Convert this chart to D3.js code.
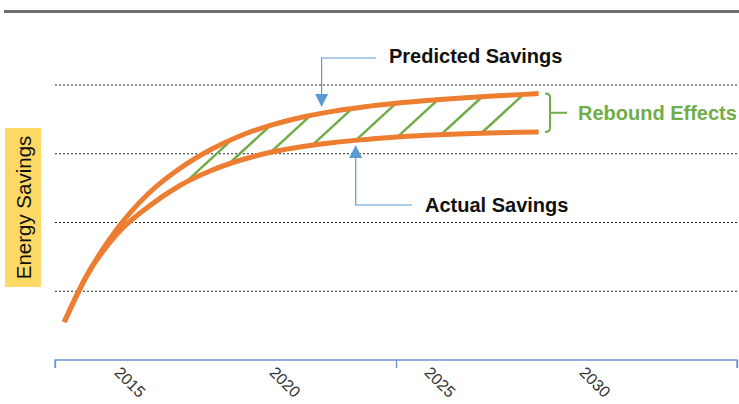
<!DOCTYPE html>
<html>
<head>
<meta charset="utf-8">
<script src="https://cdn.jsdelivr.net/npm/d3@7"></script>
<style>
  body { margin: 0; background: #fff; }
  svg { display: block; font-family: "Liberation Sans", Arial, sans-serif; }
</style>
</head>
<body>
<svg id="canvas" width="739" height="404"></svg>
<script>
// years along the curve
const years = [2013.3, 2014, 2015, 2016, 2017, 2018, 2019, 2020, 2021, 2022, 2023, 2024, 2025, 2026, 2027, 2028, 2028.6]
const predicted = [0.553, 1.207, 1.905, 2.415, 2.778, 3.055, 3.265, 3.420, 3.535, 3.620, 3.685, 3.735, 3.775, 3.808, 3.836, 3.860, 3.875]
const actual = [0.553, 1.207, 1.833, 2.225, 2.531, 2.749, 2.909, 3.025, 3.105, 3.164, 3.207, 3.244, 3.268, 3.287, 3.302, 3.312, 3.316]

const tickLabels = [2015, 2020, 2025, 2030]
const majorTicks = [2013, 2024, 2035]
const gridValues = [1, 2, 3, 4]
const hatchYears = [2017.2, 2018.6, 2019.95, 2021.3, 2022.7, 2024.05, 2025.45, 2026.75]

const width = 739
const height = 404

const orange = '#ED7D31'
const green = '#70AD47'
const blue = '#5B9BD5'

let canvas = d3.select('#canvas')

let xScale = d3.scaleLinear().domain([2013, 2035]).range([55, 737])
let yScale = d3.scaleLinear().domain([0, 4]).range([360, 85])

// top rule
canvas.append('line')
    .attr('x1', 4).attr('x2', width)
    .attr('y1', 11.5).attr('y2', 11.5)
    .attr('stroke', '#6f6f6f')
    .attr('stroke-width', 3)

// gridlines
canvas.selectAll('.grid')
    .data(gridValues)
    .enter()
    .append('line')
    .attr('class', 'grid')
    .attr('x1', xScale(2013)).attr('x2', xScale(2035))
    .attr('y1', d => yScale(d)).attr('y2', d => yScale(d))
    .attr('stroke', '#222')
    .attr('stroke-width', 1)
    .attr('stroke-dasharray', '2,2')

// x axis
let axis = d3.axisBottom(xScale)
    .tickValues(majorTicks)
    .tickSize(8)
    .tickFormat('')
let axisG = canvas.append('g')
    .attr('transform', 'translate(0,' + yScale(0) + ')')
    .call(axis)
axisG.selectAll('path, line').attr('stroke', '#6A93D6').attr('stroke-width', 1.3)
axisG.select('.domain').attr('d', 'M' + xScale(2013) + ',8V0H' + xScale(2035) + 'V8')

canvas.selectAll('.tick-label')
    .data(tickLabels)
    .enter()
    .append('text')
    .attr('class', 'tick-label')
    .attr('transform', d => 'translate(' + (xScale(d) + 5) + ',' + (yScale(0) + 5) + ') rotate(45)')
    .attr('dy', '0.75em')
    .attr('font-size', 16)
    .attr('fill', '#333')
    .text(d => d)

// y axis title box
canvas.append('rect')
    .attr('x', 5).attr('y', 128)
    .attr('width', 36).attr('height', 159)
    .attr('fill', '#FFD966')
canvas.append('text')
    .attr('transform', 'translate(23,207.5) rotate(-90)')
    .attr('text-anchor', 'middle')
    .attr('dominant-baseline', 'central')
    .attr('font-size', 20.5)
    .attr('fill', '#111')
    .text('Energy Savings')

// curves
let line = d3.line()
    .x(d => xScale(d[0]))
    .y(d => yScale(d[1]))
    .curve(d3.curveMonotoneX)

let predictedPts = years.map((y, i) => [y, predicted[i]])
let actualPts = years.map((y, i) => [y, actual[i]])

let hatchG = canvas.append('g')

let upperPath = canvas.append('path')
    .attr('d', line(predictedPts))
    .attr('fill', 'none')
    .attr('stroke', orange)
    .attr('stroke-width', 5)
let lowerPath = canvas.append('path')
    .attr('d', line(actualPts))
    .attr('fill', 'none')
    .attr('stroke', orange)
    .attr('stroke-width', 5)

let sample = (node) => {
    let total = node.getTotalLength()
    let pts = []
    for (let l = 0; l <= total; l += 0.5) {
        let p = node.getPointAtLength(l)
        pts.push([p.x, p.y])
    }
    return (x) => {
        for (let i = 1; i < pts.length; i++) {
            if (pts[i][0] >= x) {
                let a = pts[i - 1], b = pts[i]
                let t = b[0] === a[0] ? 0 : (x - a[0]) / (b[0] - a[0])
                return a[1] + t * (b[1] - a[1])
            }
        }
        return pts[pts.length - 1][1]
    }
}
let upperY = sample(upperPath.node())
let lowerY = sample(lowerPath.node())

// rebound hatching
const slope = 0.92
hatchYears.forEach(yr => {
    let x0 = xScale(yr)
    let y0 = lowerY(x0)
    let x1 = x0
    while (y0 - slope * (x1 - x0) > upperY(x1) && x1 < x0 + 80) x1 += 0.25
    hatchG.append('line')
        .attr('x1', x0).attr('y1', y0)
        .attr('x2', x1).attr('y2', y0 - slope * (x1 - x0))
        .attr('stroke', green)
        .attr('stroke-width', 2.5)
})

// callouts
let arrow = (x, tipY, dir) => {
    canvas.append('path')
        .attr('d', 'M' + (x - 6.5) + ',' + (tipY - dir * 13) + 'L' + (x + 6.5) + ',' + (tipY - dir * 13) + 'L' + x + ',' + tipY + 'Z')
        .attr('fill', blue)
}

let predX = xScale(2021.6)
canvas.append('path')
    .attr('d', 'M376,58H' + predX + 'V100')
    .attr('fill', 'none')
    .attr('stroke', blue)
    .attr('stroke-width', 1.2)
arrow(predX, 107, 1)

let actX = xScale(2022.7)
canvas.append('path')
    .attr('d', 'M412,205H' + actX + 'V152')
    .attr('fill', 'none')
    .attr('stroke', blue)
    .attr('stroke-width', 1.2)
arrow(actX, 145, -1)

canvas.append('text')
    .attr('x', 389).attr('y', 56)
    .attr('dominant-baseline', 'central')
    .attr('font-size', 20).attr('font-weight', 'bold')
    .attr('fill', '#111')
    .text('Predicted Savings')

canvas.append('text')
    .attr('x', 425).attr('y', 205)
    .attr('dominant-baseline', 'central')
    .attr('font-size', 20).attr('font-weight', 'bold')
    .attr('fill', '#111')
    .text('Actual Savings')

// rebound bracket
let bx = 550
let bTop = yScale(predicted[predicted.length - 1])
let bBot = yScale(actual[actual.length - 1])
canvas.append('path')
    .attr('d', 'M' + (bx - 5) + ',' + bTop + 'Q' + bx + ',' + bTop + ' ' + bx + ',' + (bTop + 4) +
        'V' + (bBot - 4) + 'Q' + bx + ',' + bBot + ' ' + (bx - 5) + ',' + bBot +
        'M' + bx + ',' + ((bTop + bBot) / 2) + 'H' + (bx + 17))
    .attr('fill', 'none')
    .attr('stroke', green)
    .attr('stroke-width', 2)

canvas.append('text')
    .attr('x', 578).attr('y', (bTop + bBot) / 2)
    .attr('dominant-baseline', 'central')
    .attr('font-size', 20).attr('font-weight', 'bold')
    .attr('fill', green)
    .text('Rebound Effects')
</script>
</body>
</html>
